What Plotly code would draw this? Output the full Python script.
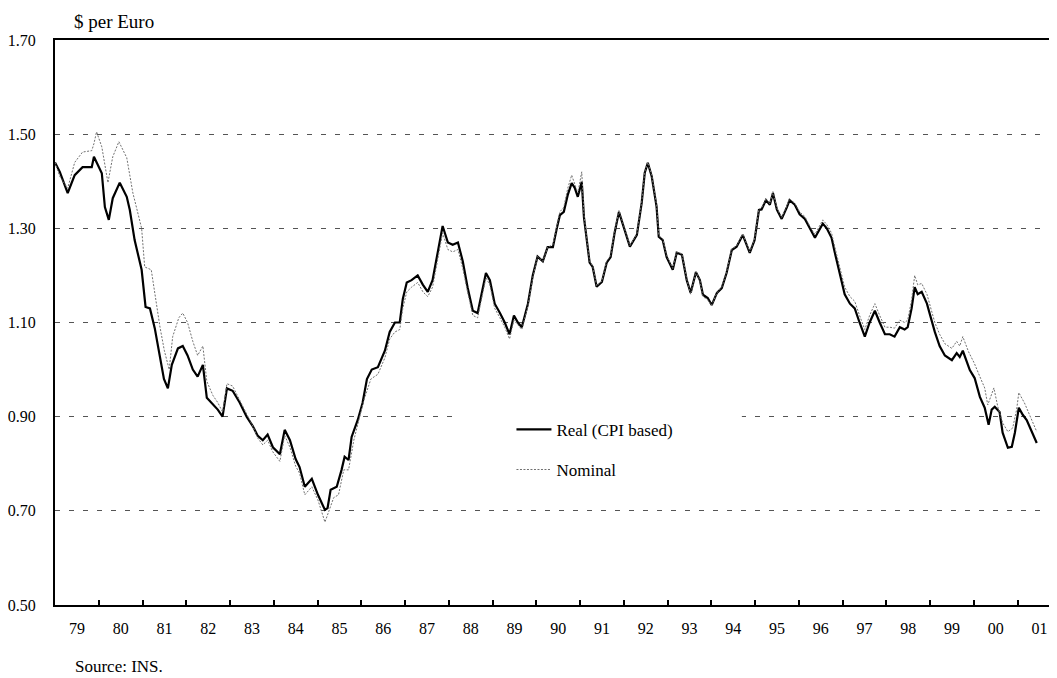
import plotly.graph_objects as go

# ---------------- data ----------------
real_t = [1979.00, 1979.11, 1979.29, 1979.45, 1979.63, 1979.84, 1979.89, 1980.07, 1980.14, 1980.23,
          1980.32, 1980.48, 1980.64, 1980.71, 1980.82, 1980.98, 1981.07, 1981.17, 1981.28, 1981.39,
          1981.49, 1981.58, 1981.67, 1981.81, 1981.92, 1982.03, 1982.15, 1982.26, 1982.38, 1982.47,
          1982.61, 1982.72, 1982.83, 1982.93, 1983.06, 1983.22, 1983.38, 1983.52, 1983.63, 1983.75,
          1983.86, 1983.98, 1984.14, 1984.25, 1984.37, 1984.50, 1984.59, 1984.71, 1984.87, 1985.01,
          1985.17, 1985.23, 1985.30, 1985.44, 1985.55, 1985.62, 1985.71, 1985.78, 1985.92, 1986.03,
          1986.13, 1986.24, 1986.38, 1986.54, 1986.65, 1986.77, 1986.88, 1986.95, 1987.04, 1987.15,
          1987.29, 1987.41, 1987.52, 1987.63, 1987.75, 1987.86, 1987.98, 1988.09, 1988.21, 1988.32,
          1988.43, 1988.55, 1988.66, 1988.75, 1988.85, 1988.94, 1989.05, 1989.17, 1989.28, 1989.39,
          1989.49, 1989.58, 1989.67, 1989.81, 1989.92, 1990.03, 1990.15, 1990.26, 1990.38, 1990.47,
          1990.54, 1990.63, 1990.72, 1990.81, 1990.88, 1990.95, 1991.04, 1991.09, 1991.15, 1991.22,
          1991.29, 1991.38, 1991.50, 1991.61, 1991.70, 1991.79, 1991.89, 1992.02, 1992.14, 1992.30,
          1992.41, 1992.48, 1992.55, 1992.64, 1992.75, 1992.80, 1992.89, 1992.98, 1993.12, 1993.21,
          1993.33, 1993.44, 1993.53, 1993.65, 1993.74, 1993.81, 1993.92, 1994.01, 1994.13, 1994.24,
          1994.35, 1994.47, 1994.58, 1994.72, 1994.88, 1994.99, 1995.09, 1995.15, 1995.25, 1995.34,
          1995.41, 1995.50, 1995.61, 1995.73, 1995.79, 1995.91, 1996.02, 1996.14, 1996.25, 1996.37,
          1996.43, 1996.55, 1996.64, 1996.75, 1996.82, 1996.94, 1997.05, 1997.17, 1997.28, 1997.39,
          1997.51, 1997.62, 1997.74, 1997.85, 1997.97, 1998.08, 1998.19, 1998.31, 1998.42, 1998.49,
          1998.58, 1998.65, 1998.72, 1998.81, 1998.93, 1998.99, 1999.11, 1999.22, 1999.34, 1999.50,
          1999.61, 1999.68, 1999.75, 1999.91, 2000.02, 2000.14, 2000.25, 2000.34, 2000.41, 2000.48,
          2000.59, 2000.66, 2000.78, 2000.87, 2000.94, 2001.03, 2001.12, 2001.21, 2001.33, 2001.44]
real_v = [1.440, 1.420, 1.375, 1.413, 1.430, 1.430, 1.452, 1.417, 1.345, 1.318,
          1.364, 1.397, 1.367, 1.339, 1.275, 1.212, 1.133, 1.130, 1.088, 1.030,
          0.980, 0.960, 1.010, 1.045, 1.050, 1.030, 1.000, 0.985, 1.010, 0.940,
          0.925, 0.915, 0.900, 0.960, 0.955, 0.930, 0.900, 0.880, 0.860, 0.850,
          0.862, 0.835, 0.820, 0.872, 0.850, 0.810, 0.793, 0.751, 0.768, 0.734,
          0.702, 0.706, 0.745, 0.751, 0.787, 0.815, 0.808, 0.857, 0.893, 0.929,
          0.980, 1.000, 1.005, 1.040, 1.080, 1.100, 1.100, 1.150, 1.185, 1.190,
          1.200, 1.180, 1.165, 1.190, 1.250, 1.305, 1.270, 1.265, 1.270, 1.230,
          1.175, 1.125, 1.120, 1.160, 1.205, 1.190, 1.140, 1.120, 1.100, 1.075,
          1.115, 1.100, 1.090, 1.140, 1.200, 1.240, 1.230, 1.260, 1.260, 1.300,
          1.328, 1.335, 1.371, 1.396, 1.386, 1.367, 1.399, 1.324, 1.275, 1.227,
          1.218, 1.176, 1.186, 1.227, 1.239, 1.290, 1.335, 1.297, 1.261, 1.286,
          1.354, 1.418, 1.439, 1.410, 1.346, 1.282, 1.275, 1.239, 1.212, 1.248,
          1.244, 1.190, 1.163, 1.207, 1.190, 1.159, 1.152, 1.137, 1.163, 1.173,
          1.205, 1.254, 1.261, 1.286, 1.248, 1.275, 1.339, 1.340, 1.360, 1.350,
          1.375, 1.340, 1.320, 1.345, 1.360, 1.350, 1.330, 1.320, 1.300, 1.280,
          1.290, 1.310, 1.300, 1.280, 1.250, 1.200, 1.160, 1.140, 1.130, 1.100,
          1.070, 1.100, 1.125, 1.100, 1.075, 1.075, 1.070, 1.090, 1.085, 1.090,
          1.130, 1.175, 1.160, 1.165, 1.140, 1.120, 1.080, 1.050, 1.030, 1.020,
          1.035, 1.027, 1.040, 0.999, 0.982, 0.942, 0.919, 0.883, 0.915, 0.921,
          0.910, 0.866, 0.834, 0.836, 0.866, 0.919, 0.904, 0.893, 0.868, 0.844]

nom_t = [1979.00, 1979.11, 1979.29, 1979.45, 1979.63, 1979.84, 1979.89, 1979.95, 1980.07, 1980.21,
         1980.32, 1980.46, 1980.64, 1980.78, 1980.98, 1981.05, 1981.20, 1981.33, 1981.40, 1981.50,
         1981.61, 1981.69, 1981.83, 1981.92, 1982.03, 1982.15, 1982.26, 1982.38, 1982.47, 1982.61,
         1982.72, 1982.83, 1982.93, 1983.06, 1983.22, 1983.38, 1983.52, 1983.63, 1983.75, 1983.86,
         1983.98, 1984.14, 1984.25, 1984.37, 1984.50, 1984.59, 1984.71, 1984.87, 1985.01, 1985.17,
         1985.26, 1985.37, 1985.48, 1985.60, 1985.71, 1985.83, 1986.06, 1986.22, 1986.38, 1986.54,
         1986.65, 1986.77, 1986.88, 1986.95, 1987.04, 1987.15, 1987.29, 1987.41, 1987.52, 1987.63,
         1987.75, 1987.86, 1987.98, 1988.09, 1988.21, 1988.32, 1988.43, 1988.55, 1988.66, 1988.75,
         1988.85, 1988.94, 1989.05, 1989.17, 1989.28, 1989.39, 1989.49, 1989.58, 1989.67, 1989.81,
         1989.92, 1990.03, 1990.15, 1990.26, 1990.38, 1990.47, 1990.54, 1990.63, 1990.72, 1990.81,
         1990.88, 1990.95, 1991.04, 1991.09, 1991.15, 1991.22, 1991.29, 1991.38, 1991.50, 1991.61,
         1991.70, 1991.79, 1991.89, 1992.02, 1992.14, 1992.30, 1992.41, 1992.48, 1992.55, 1992.64,
         1992.75, 1992.80, 1992.89, 1992.98, 1993.12, 1993.21, 1993.33, 1993.44, 1993.53, 1993.65,
         1993.74, 1993.81, 1993.92, 1994.01, 1994.13, 1994.24, 1994.35, 1994.47, 1994.58, 1994.72,
         1994.88, 1994.99, 1995.09, 1995.15, 1995.25, 1995.34, 1995.41, 1995.50, 1995.61, 1995.73,
         1995.79, 1995.91, 1996.02, 1996.14, 1996.25, 1996.37, 1996.43, 1996.55, 1996.64, 1996.75,
         1996.82, 1996.94, 1997.05, 1997.17, 1997.28, 1997.39, 1997.51, 1997.62, 1997.74, 1997.85,
         1997.97, 1998.08, 1998.19, 1998.31, 1998.42, 1998.49, 1998.58, 1998.65, 1998.72, 1998.81,
         1998.93, 1998.99, 1999.11, 1999.22, 1999.34, 1999.50, 1999.61, 1999.68, 1999.75, 1999.88,
         2000.01, 2000.14, 2000.25, 2000.32, 2000.46, 2000.55, 2000.66, 2000.78, 2000.89, 2000.98,
         2001.03, 2001.16, 2001.28, 2001.44]
nom_v = [1.440, 1.410, 1.385, 1.440, 1.462, 1.465, 1.480, 1.505, 1.473, 1.397,
         1.452, 1.484, 1.450, 1.375, 1.300, 1.218, 1.212, 1.127, 1.090, 1.040,
         1.000, 1.070, 1.110, 1.120, 1.100, 1.060, 1.030, 1.050, 0.975, 0.945,
         0.930, 0.910, 0.970, 0.965, 0.935, 0.905, 0.880, 0.855, 0.840, 0.850,
         0.825, 0.805, 0.860, 0.835, 0.795, 0.780, 0.734, 0.751, 0.723, 0.676,
         0.698, 0.728, 0.734, 0.787, 0.787, 0.850, 0.935, 0.980, 0.990, 1.025,
         1.065, 1.080, 1.085, 1.130, 1.165, 1.175, 1.185, 1.165, 1.155, 1.175,
         1.235, 1.290, 1.255, 1.250, 1.255, 1.215, 1.165, 1.115, 1.110, 1.150,
         1.195, 1.180, 1.130, 1.110, 1.090, 1.065, 1.105, 1.095, 1.085, 1.135,
         1.195, 1.240, 1.230, 1.260, 1.265, 1.305, 1.335, 1.345, 1.385, 1.413,
         1.395, 1.375, 1.420, 1.330, 1.280, 1.230, 1.220, 1.178, 1.188, 1.230,
         1.242, 1.293, 1.338, 1.300, 1.263, 1.288, 1.356, 1.420, 1.440, 1.412,
         1.350, 1.285, 1.278, 1.242, 1.215, 1.250, 1.246, 1.192, 1.160, 1.208,
         1.190, 1.155, 1.148, 1.137, 1.163, 1.175, 1.207, 1.256, 1.263, 1.288,
         1.250, 1.277, 1.341, 1.343, 1.363, 1.352, 1.378, 1.343, 1.323, 1.348,
         1.363, 1.353, 1.335, 1.325, 1.305, 1.287, 1.297, 1.318, 1.308, 1.290,
         1.262, 1.213, 1.175, 1.155, 1.145, 1.115, 1.085, 1.115, 1.140, 1.115,
         1.090, 1.090, 1.088, 1.105, 1.100, 1.105, 1.148, 1.200, 1.180, 1.183,
         1.160, 1.140, 1.100, 1.075, 1.055, 1.045, 1.060, 1.050, 1.070, 1.038,
         1.014, 0.985, 0.961, 0.925, 0.961, 0.921, 0.887, 0.868, 0.876, 0.915,
         0.951, 0.929, 0.904, 0.868]

year_labels = ["79", "80", "81", "82", "83", "84", "85", "86", "87", "88", "89", "90",
               "91", "92", "93", "94", "95", "96", "97", "98", "99", "00", "01"]
first_year = 1979
y_ticks = [0.50, 0.70, 0.90, 1.10, 1.30, 1.50, 1.70]

FONT = "Liberation Serif, Times New Roman, serif"

# ---------------- figure ----------------
fig = go.Figure()
fig.add_trace(go.Scatter(
    x=real_t, y=real_v, mode="lines", name="Real (CPI based)",
    line=dict(color="black", width=2.2), legend="legend"))
fig.add_trace(go.Scatter(
    x=nom_t, y=nom_v, mode="lines", name="Nominal",
    line=dict(color="#707070", width=1, dash="2px,1.5px"), legend="legend2"))

label_pos = [first_year + i + 0.5 for i in range(len(year_labels))]
boundaries = [first_year + i for i in range(1, len(year_labels))]

# the page body adds an 8px offset, so the figure is sized to fill the rest of the window
fig.update_layout(
    width=1049, height=670,
    margin=dict(l=47, r=1, t=32, b=73),
    paper_bgcolor="white", plot_bgcolor="white",
    font=dict(family=FONT, color="black", size=15),
    showlegend=True,
    legend=dict(x=0.456, y=0.31, xanchor="left", yanchor="middle",
                bgcolor="rgba(0,0,0,0)", font=dict(family=FONT, size=17),
                itemwidth=35),
    legend2=dict(x=0.456, y=0.239, xanchor="left", yanchor="middle",
                 bgcolor="rgba(0,0,0,0)", font=dict(family=FONT, size=17),
                 itemwidth=35),
    xaxis=dict(
        range=[first_year, 2001.88], showgrid=False, zeroline=False, automargin=False,
        showline=True, linecolor="black", linewidth=2, mirror=True,
        tickmode="array", tickvals=label_pos, ticktext=year_labels,
        ticks="", ticklabelstandoff=8,
        tickfont=dict(family=FONT, size=16),
        minor=dict(tickmode="array", tickvals=boundaries, ticks="inside",
                   ticklen=5, tickwidth=1.5, tickcolor="black", showgrid=False),
    ),
    yaxis=dict(
        range=[0.5, 1.7], zeroline=False, automargin=False,
        showline=True, linecolor="black", linewidth=2, mirror=False,
        tickmode="array", tickvals=y_ticks, ticktext=[f"{v:.2f}" for v in y_ticks],
        ticks="", ticklabelstandoff=14,
        tickfont=dict(family=FONT, size=16),
        showgrid=True, gridcolor="#555555", gridwidth=1, griddash="5px,9px",
    ),
)

# white box behind legend interrupting the 0.90 gridline
fig.add_shape(type="rect", xref="x", yref="y", x0=1988.2, x1=1994.7, y0=0.86, y1=0.94,
              fillcolor="white", line=dict(width=0), layer="between")

fig.add_annotation(text="$ per Euro", xref="paper", yref="paper", x=0.017, y=1.0,
                   yshift=19, xanchor="left", yanchor="middle", showarrow=False,
                   font=dict(family=FONT, size=19, color="black"))
fig.add_annotation(text="Source: INS.", xref="paper", yref="paper", x=0.018, y=0,
                   yshift=-61, xanchor="left", yanchor="middle", showarrow=False,
                   font=dict(family=FONT, size=17, color="black"))

fig.write_html("out.html")
